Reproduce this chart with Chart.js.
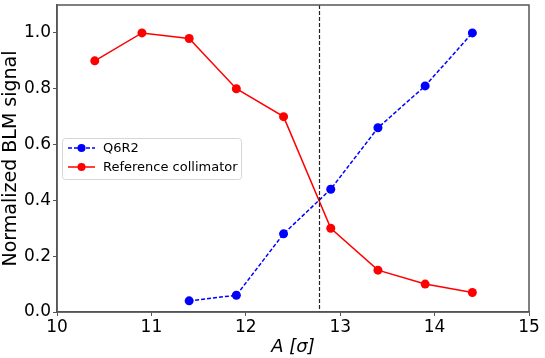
<!DOCTYPE html>
<html>
<head>
<meta charset="utf-8">
<script src="https://cdn.jsdelivr.net/npm/chart.js@4.4.1/dist/chart.umd.min.js"></script>
<style>
  html, body { margin: 0; padding: 0; background: #fff; }
  #wrap { width: 545px; height: 358px; }
</style>
</head>
<body>
<div id="wrap"><canvas id="canvas" width="545" height="358"></canvas></div>
<script>
// data
const q6r2X = [11.4, 11.9, 12.4, 12.9, 13.4, 13.9, 14.4];
const q6r2Y = [0.04, 0.06, 0.28, 0.44, 0.66, 0.81, 1.0];
const refX = [10.4, 10.9, 11.4, 11.9, 12.4, 12.9, 13.4, 13.9, 14.4];
const refY = [0.9, 1.0, 0.98, 0.8, 0.7, 0.3, 0.15, 0.1, 0.07];
const xTicks = [10, 11, 12, 13, 14, 15];
const yTicks = [0, 0.2, 0.4, 0.6, 0.8, 1.0];
const cutLine = 12.78;

const FONT = 'DejaVu Sans';
const SPINE = '#555555';

function toPoints(xs, ys) {
	return xs.map((x, i) => ({x: x, y: ys[i]}));
}

// box around the axes, dashed cut line and the legend
const extras = {
	id: 'extras',
	afterDatasetsDraw(chart) {
		const ctx = chart.ctx;
		const a = chart.chartArea;
		const xs = chart.scales.x;
		ctx.save();
		// vertical dashed line
		const px = Math.round(xs.getPixelForValue(cutLine)) + 0.5;
		ctx.strokeStyle = '#222';
		ctx.lineWidth = 1.2;
		ctx.setLineDash([4, 2]);
		ctx.beginPath();
		ctx.moveTo(px, a.top);
		ctx.lineTo(px, a.bottom);
		ctx.stroke();
		ctx.setLineDash([]);
		// spines
		ctx.strokeStyle = SPINE;
		ctx.lineWidth = 1.5;
		ctx.strokeRect(a.left, a.top, a.right - a.left, a.bottom - a.top);
		// legend
		const lx = 62, ly = 138, lw = 179, lh = 41;
		ctx.fillStyle = 'rgba(255,255,255,0.85)';
		ctx.strokeStyle = '#d6d6d6';
		ctx.lineWidth = 1;
		ctx.beginPath();
		ctx.roundRect(lx + 0.5, ly + 0.5, lw, lh, 3);
		ctx.fill();
		ctx.stroke();
		const items = [
			{label: 'Q6R2', color: '#0000ff', dash: [4, 2]},
			{label: 'Reference collimator', color: '#ff0000', dash: []}
		];
		ctx.font = '13px "' + FONT + '"';
		ctx.textBaseline = 'middle';
		items.forEach((it, i) => {
			const cy = ly + 10 + i * 19;
			ctx.strokeStyle = it.color;
			ctx.lineWidth = 1.5;
			ctx.setLineDash(it.dash);
			ctx.beginPath();
			ctx.moveTo(lx + 6, cy);
			ctx.lineTo(lx + 33, cy);
			ctx.stroke();
			ctx.setLineDash([]);
			ctx.fillStyle = it.color;
			ctx.beginPath();
			ctx.arc(lx + 19.5, cy, 4, 0, Math.PI * 2);
			ctx.fill();
			ctx.fillStyle = '#000';
			ctx.fillText(it.label, lx + 41, cy + 1);
		});
		ctx.restore();
	}
};

const ctx = document.getElementById('canvas');
new Chart(ctx, {
	type: 'line',
	data: {
		datasets: [
			{
				label: 'Q6R2',
				data: toPoints(q6r2X, q6r2Y),
				borderColor: '#0000ff',
				backgroundColor: '#0000ff',
				borderWidth: 1.5,
				borderDash: [4, 2],
				pointRadius: 4.5,
				pointBorderWidth: 0,
				pointHoverRadius: 4.5,
				tension: 0
			},
			{
				label: 'Reference collimator',
				data: toPoints(refX, refY),
				borderColor: '#ff0000',
				backgroundColor: '#ff0000',
				borderWidth: 1.5,
				pointRadius: 4.5,
				pointBorderWidth: 0,
				pointHoverRadius: 4.5,
				tension: 0
			}
		]
	},
	options: {
		responsive: false,
		animation: false,
		layout: { padding: { left: 0, top: 5, right: 16, bottom: 0 } },
		plugins: {
			legend: { display: false },
			tooltip: { enabled: false }
		},
		scales: {
			x: {
				type: 'linear',
				min: 10,
				max: 15,
				afterBuildTicks: (s) => { s.ticks = xTicks.map(v => ({value: v})); },
				afterFit: (s) => { s.height = 46; s.paddingLeft = 0; s.paddingRight = 0; },
				grid: { display: true, drawOnChartArea: false, drawTicks: true, tickLength: 4, color: SPINE },
				border: { display: true, color: SPINE, width: 1.5 },
				ticks: {
					color: '#000',
					padding: 1,
					font: { family: FONT, size: 17 },
					maxRotation: 0,
					callback: (v) => String(v)
				},
				title: {
					display: true,
					text: 'A [σ]',
					color: '#000',
					padding: { top: 0, bottom: 0 },
					font: { family: FONT, size: 18, style: 'italic' }
				}
			},
			y: {
				min: 0,
				max: 1.1,
				afterBuildTicks: (s) => { s.ticks = yTicks.map(v => ({value: v})); },
				afterFit: (s) => { s.width = 57; s.paddingTop = 0; s.paddingBottom = 0; },
				grid: { display: true, drawOnChartArea: false, drawTicks: true, tickLength: 4, color: SPINE },
				border: { display: true, color: SPINE, width: 1.5 },
				ticks: {
					color: '#000',
					padding: 2,
					font: { family: FONT, size: 17 },
					callback: (v) => v.toFixed(1)
				},
				title: {
					display: true,
					text: 'Normalized BLM signal',
					color: '#000',
					padding: { top: 0, bottom: 2 },
					font: { family: FONT, size: 19 }
				}
			}
		}
	},
	plugins: [extras]
});
</script>
</body>
</html>
